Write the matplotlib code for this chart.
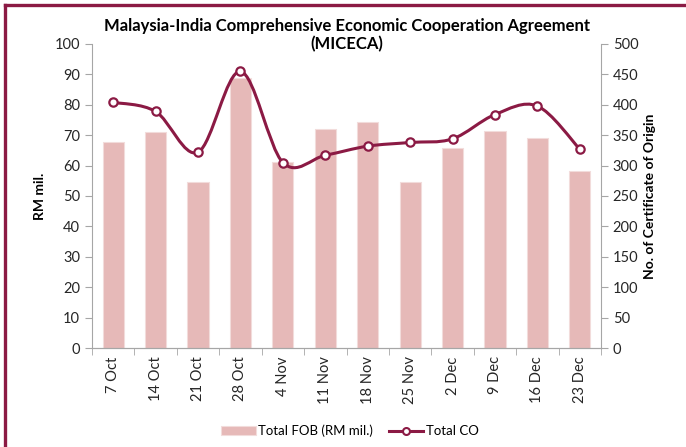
import numpy as np
import matplotlib.pyplot as plt
from matplotlib.path import Path
from matplotlib.patches import PathPatch
from matplotlib.lines import Line2D

weeks = ["7 Oct", "14 Oct", "21 Oct", "28 Oct", "4 Nov", "11 Nov",
         "18 Nov", "25 Nov", "2 Dec", "9 Dec", "16 Dec", "23 Dec"]
total_fob = [67.9, 70.9, 54.7, 88.7, 61.1, 71.9, 74.3, 54.5, 65.9, 71.3, 69.0, 58.1]
total_co = [404, 389, 322, 455, 305, 317, 332, 338, 344, 384, 398, 327]

bar_col = "#E6B9B8"
line_col = "#8B1A44"
grey = "#A6A6A6"
txt = "#262626"

plt.rcParams["font.family"] = ["Lato", "DejaVu Sans"]

fig = plt.figure(figsize=(6.86, 4.47), dpi=100)
ax = fig.add_axes([92/686, 1-348/447, 509/686, 304/447])
ax2 = ax.twinx()

x = np.arange(len(weeks))
bars = ax.bar(x, total_fob, width=0.5, color=bar_col, edgecolor="#F2DCDB", linewidth=0.8,
              label="Total FOB (RM mil.)")

# smooth line like excel: bezier segments through the points
pts = np.column_stack([x, total_co]).astype(float)
verts = [tuple(pts[0])]
codes = [Path.MOVETO]
n = len(pts)
for i in range(n - 1):
    p0 = pts[i - 1] if i > 0 else pts[i]
    p1 = pts[i]
    p2 = pts[i + 1]
    p3 = pts[i + 2] if i + 2 < n else pts[i + 1]
    c1 = p1 + (p2 - p0) / 6
    c2 = p2 - (p3 - p1) / 6
    verts += [tuple(c1), tuple(c2), tuple(p2)]
    codes += [Path.CURVE4] * 3
ax2.add_patch(PathPatch(Path(verts, codes), facecolor="none", edgecolor=line_col, lw=2.2, zorder=3))
ax2.plot(x, total_co, linestyle="none", marker="o", ms=6, mfc="white", mec=line_col, mew=1.6, zorder=4)

ax.set_xlim(-0.5, len(weeks) - 0.5)
ax.set_ylim(0, 100)
ax2.set_ylim(0, 500)
ax.set_yticks(range(0, 101, 10))
ax2.set_yticks(range(0, 501, 50))

ax.set_xticks(x)
ax.set_xticklabels(weeks, rotation=90, fontsize=10.5, color=txt)
ax.set_xticks(np.arange(-0.5, len(weeks), 1), minor=True)
ax.tick_params(axis="x", which="major", length=0, pad=6)
ax.tick_params(axis="x", which="minor", length=5, color=grey, direction="out")
ax.tick_params(axis="y", labelsize=10.5, labelcolor=txt, color=grey, length=5)
ax2.tick_params(axis="y", labelsize=10.5, labelcolor=txt, color=grey, length=5)

for a in (ax, ax2):
    a.spines["top"].set_visible(False)
    for s in ("left", "right", "bottom"):
        a.spines[s].set_color(grey)
ax2.spines["left"].set_visible(False)
ax.spines["right"].set_visible(False)

ax.set_ylabel("RM mil.", fontsize=10, fontweight="bold", labelpad=6)
ax2.set_ylabel("No. of Certificate of Origin", fontsize=10, fontweight="bold", labelpad=4)

fig.text(347/686, 1-35/447, "Malaysia-India Comprehensive Economic Cooperation Agreement\n(MICECA)",
         ha="center", va="center", fontsize=12, fontweight="bold", color="black", linespacing=1.2)

h_line = Line2D([], [], color=line_col, lw=2.2, marker="o", ms=5, mfc="white", mec=line_col, mew=1.5)
fig.legend([bars, h_line], ["Total FOB (RM mil.)", "Total CO"], loc="center",
           bbox_to_anchor=(350/686, 1-431/447), ncol=2, frameon=False, fontsize=9.5,
           handlelength=2.6, handletextpad=0.2, columnspacing=1.2)

# maroon frame on top and left
fig.add_artist(Line2D([5/686, 1], [1-5/447, 1-5/447], color=line_col, lw=2.4, transform=fig.transFigure))
fig.add_artist(Line2D([5/686, 5/686], [0, 1-5/447], color=line_col, lw=2.4, transform=fig.transFigure))

fig.savefig("out.png", dpi=100)
